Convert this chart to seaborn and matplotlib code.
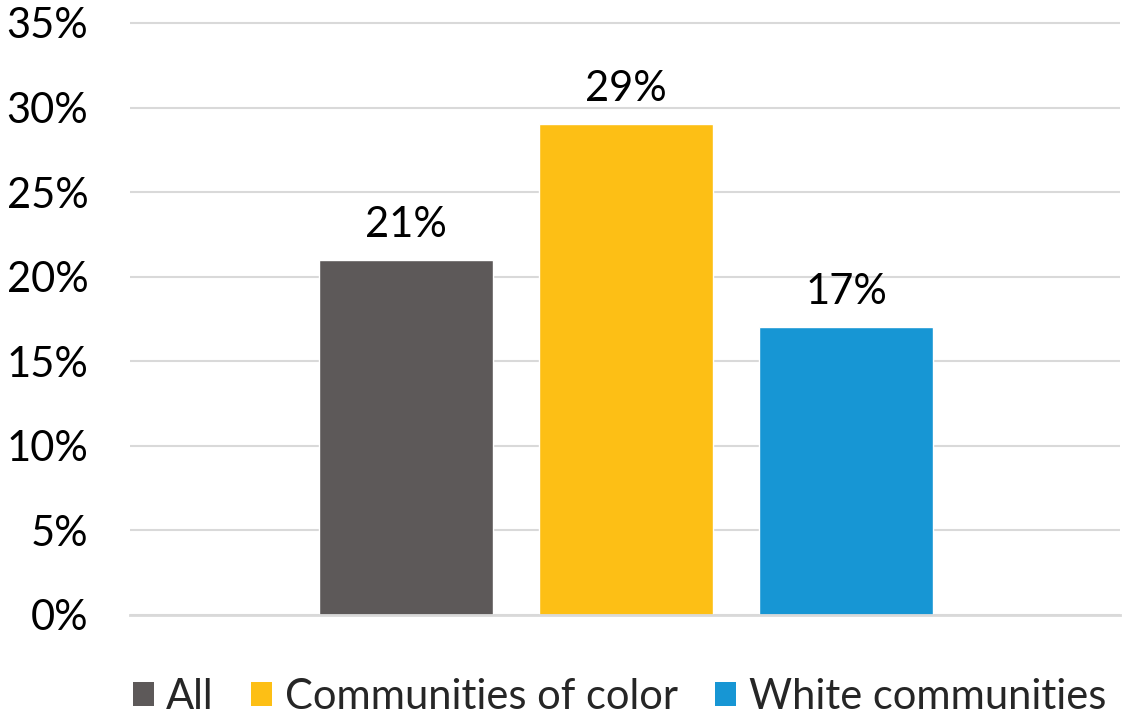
import matplotlib
matplotlib.use("Agg")
import matplotlib.pyplot as plt
from matplotlib.patches import Patch
import seaborn as sns
import pandas as pd

groups = ["All", "Communities of color", "White communities"]
shares = [21, 29, 17]
colors = ["#5d5959", "#fdbf15", "#1796d4"]
y_ticks = [0, 5, 10, 15, 20, 25, 30, 35]
y_tick_labels = [f"{t}%" for t in y_ticks]

sns.set_theme(style="white")
plt.rcParams["font.family"] = ["Lato", "DejaVu Sans"]

df = pd.DataFrame({"group": groups, "share": shares})

fig = plt.figure(figsize=(11.22, 7.16), dpi=100)
ax = fig.add_axes([130 / 1122, 1 - 615 / 716, 990 / 1122, (615 - 19.6) / 716])

sns.barplot(data=df, x="group", y="share", hue="group", palette=colors,
            order=groups, hue_order=groups, width=174 / 220, dodge=False,
            legend=False, ax=ax, saturation=1)

ax.set_xlim(-1.2545, 3.245)
ax.set_ylim(0, 35.2)
ax.set_yticks(y_ticks)
ax.set_yticklabels(y_tick_labels)
ax.tick_params(axis="y", length=0, pad=30, labelsize=30, labelcolor="#000000")
ax.set_xticks([])
ax.set_xlabel("")
ax.set_ylabel("")
ax.yaxis.grid(True, color="#d9d9d9", linewidth=1.5)
ax.set_axisbelow(True)
for side in ["top", "right", "left"]:
    ax.spines[side].set_visible(False)
ax.spines["bottom"].set_color("#d9d9d9")
ax.spines["bottom"].set_linewidth(2)

for patch, val in zip(ax.patches, shares):
    ax.text(patch.get_x() + patch.get_width() / 2, val + 0.95, f"{val}%",
            ha="center", va="bottom", fontsize=30, color="#000000")

handles = [Patch(facecolor=c, edgecolor="none", label=g) for g, c in zip(groups, colors)]
fig.legend(handles=handles, loc="center", bbox_to_anchor=(619.5 / 1122, 1 - 697 / 716),
           ncol=3, frameon=False, fontsize=30, handlelength=0.5, handleheight=0.5,
           handletextpad=0.3, columnspacing=0.9, borderpad=0)

fig.savefig("out.png", dpi=100)
